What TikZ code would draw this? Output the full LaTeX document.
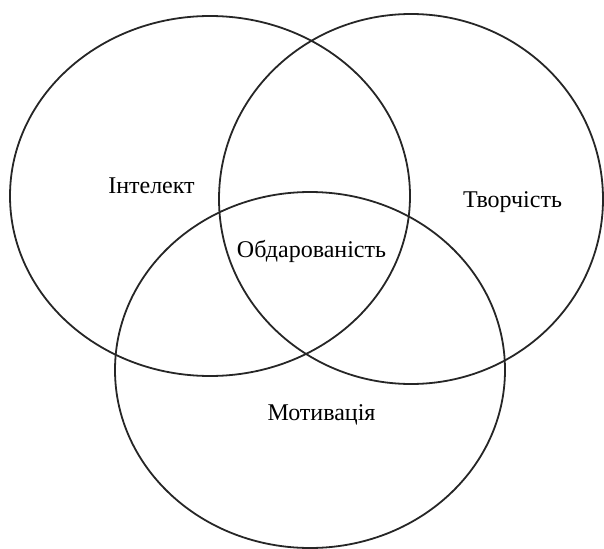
\documentclass[tikz,border=0pt]{standalone}
\usepackage{fontspec}
\setmainfont{Liberation Serif}

\begin{document}
\begin{tikzpicture}[x=1pt, y=-1pt,
      ring/.style ={draw=black!85, line width=1.8pt},
      tag/.style ={fill=white, anchor=base, inner xsep=14pt, inner ysep=4pt,
                   text height=0.75em, text depth=0.8em,
                   font=\fontsize{24}{29}\selectfont}
    ]
    \useasboundingbox (0,0) rectangle (604,548) ;

    \draw [ring] (210,196) ellipse [x radius=200, y radius=180] ;
    \draw [ring] (411,199) ellipse [x radius=192, y radius=185] ;
    \draw [ring] (310,370) ellipse [x radius=195, y radius=178] ;

    \node [tag] (intel) at (151.5,193) {Інтелект} ;
    \node [tag] (tvor)  at (512.5,207) {Творчість} ;
    \node [tag, inner xsep=2pt, text depth=0.5em] (obdar) at (311.5,257) {Обдарованість} ;
    \node [tag] (motiv) at (321.5,420) {Мотивація} ;
  \end{tikzpicture}
\end{document}
